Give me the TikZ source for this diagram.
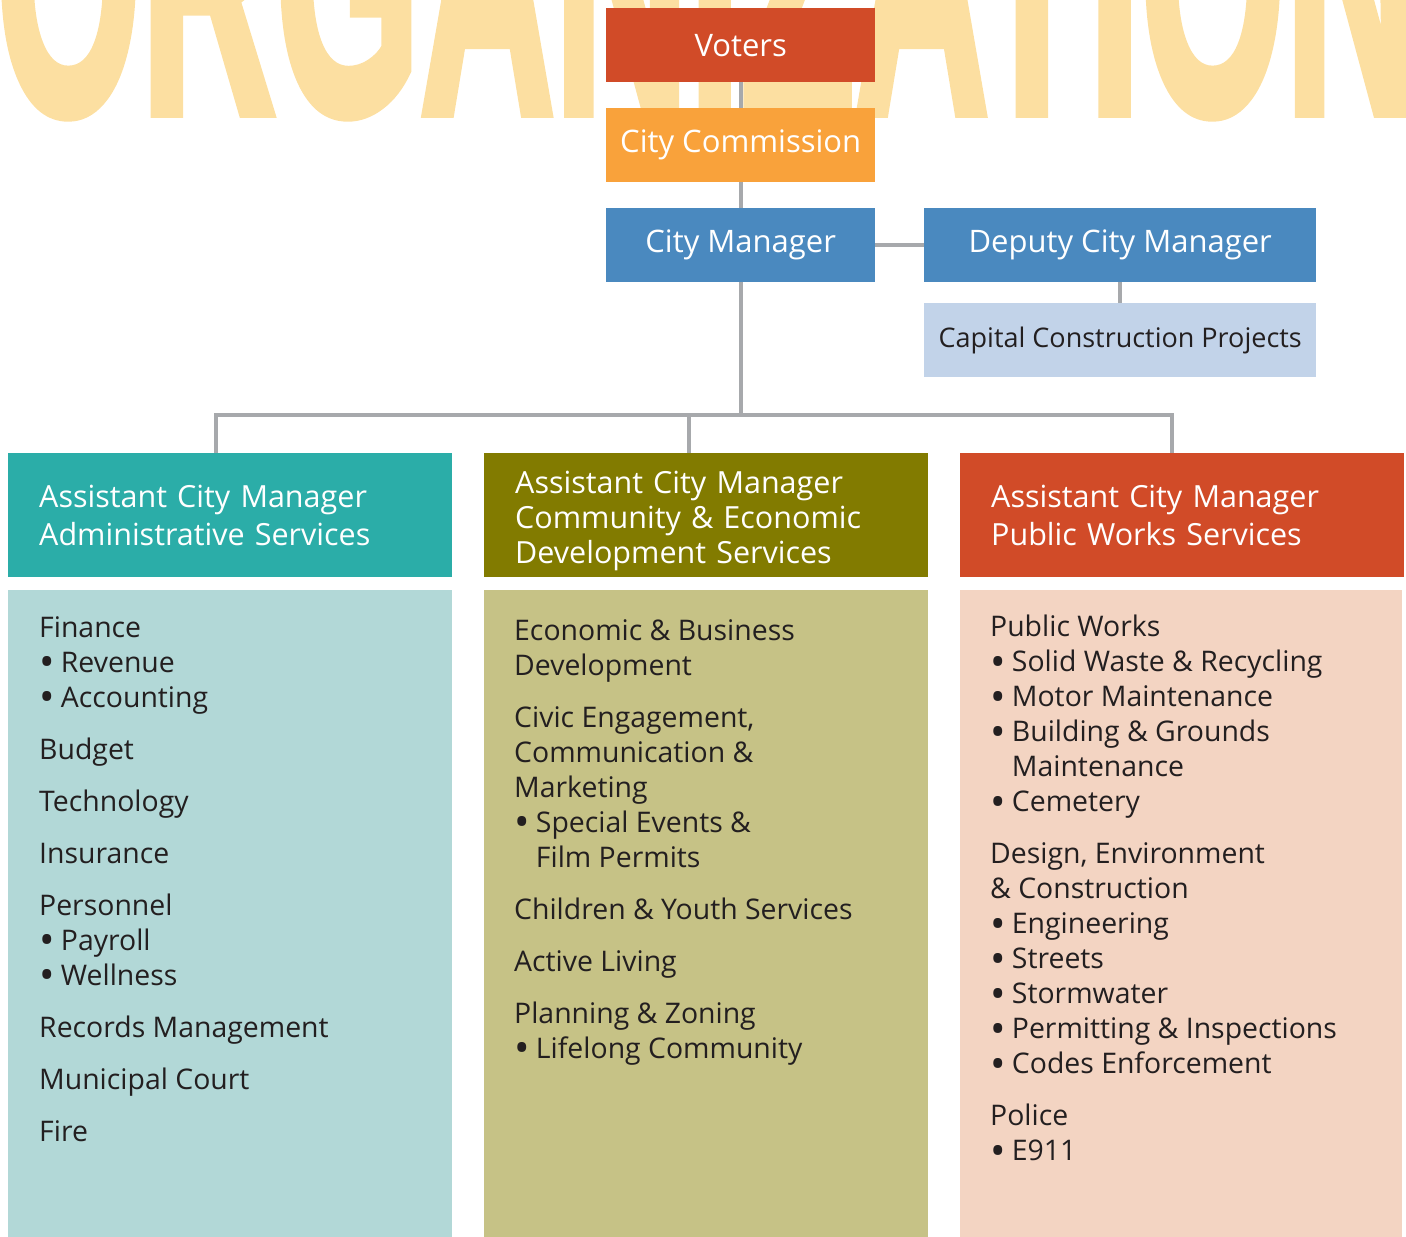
\documentclass[tikz,border=0pt]{standalone}
\usepackage{fontspec}
\setmainfont{Open Sans}
\newfontfamily\orgfont[FakeBold=3]{Liberation Sans Bold}

\definecolor{votersred}{HTML}{D14B28}
\definecolor{commorange}{HTML}{F9A23B}
\definecolor{mgrblue}{HTML}{4A89BF}
\definecolor{projblue}{HTML}{C2D3E9}
\definecolor{adminteal}{HTML}{2BADA8}
\definecolor{commolive}{HTML}{827B00}
\definecolor{adminlight}{HTML}{B2D8D7}
\definecolor{commlight}{HTML}{C6C286}
\definecolor{publight}{HTML}{F3D4C2}
\definecolor{linkgray}{HTML}{A7A9AC}
\definecolor{orgyellow}{HTML}{FCDFA1}
\definecolor{darktext}{HTML}{231F20}

\newcommand{\itm}{\smash{\raisebox{-0.17em}{\scalebox{1.45}{\textbullet}}}\hspace{0.22em}}
\newcommand{\cont}{\phantom{\itm}}

\begin{document}
\begin{tikzpicture}[x=1pt,y=-1pt,
  box/.style={rectangle, inner sep=0pt, anchor=north west},
  topbox/.style={box, text=white, minimum height=74pt, font=\fontsize{31}{36}\selectfont},
  headbox/.style={box, text=white, minimum width=444pt, minimum height=124pt,
    text width=382pt, inner xsep=31pt, align=left, font=\fontsize{30.5}{38}\selectfont},
  bodybox/.style={box, minimum width=444pt, minimum height=647pt},
  listtext/.style={box, text=darktext, align=left, font=\fontsize{28.4}{35}\selectfont},
  link/.style={draw=linkgray, line width=4pt}]

\useasboundingbox (0,0) rectangle (1406,1237);
\clip (0,0) rectangle (1406,1237);

% background title
\node[anchor=base west, inner sep=0pt, text=orgyellow] (title) at (-4,112)
  {\scalebox{0.476}[1]{\orgfont\fontsize{391}{391}\selectfont ORGANIZATION}};

% top of the chart
\node[topbox, fill=votersred, minimum width=269pt] (voters) at (606,8) {Voters};
\node[topbox, fill=commorange, minimum width=269pt] (commission) at (606,108) {City Commission};
\node[topbox, fill=mgrblue, minimum width=269pt] (manager) at (606,208) {City Manager};
\node[topbox, fill=mgrblue, minimum width=392pt] (deputy) at (924,208) {Deputy City Manager};
\node[topbox, fill=projblue, minimum width=392pt, text=darktext, font=\fontsize{27}{32}\selectfont]
  (projects) at (924,303) {Capital Construction Projects};

% assistant managers
\node[headbox, fill=adminteal] (adminhead) at (8,453)
  {Assistant City Manager\\Administrative Services};
\node[headbox, fill=commolive, font=\fontsize{30.5}{35}\selectfont] (commhead) at (484,453)
  {\rule{0pt}{33pt}Assistant City Manager\\Community \& Economic\\Development Services};
\node[headbox, fill=votersred, minimum width=442pt] (pubhead) at (960,453)
  {Assistant City Manager\\Public Works Services};

% departments
\node[bodybox, fill=adminlight] (adminbody) at (8,590) {};
\node[bodybox, fill=commlight] (commbody) at (484,590) {};
\node[bodybox, fill=publight, minimum width=442pt] (pubbody) at (960,590) {};

\node[listtext] (adminlist) at (39,616) {Finance\\
  \itm Revenue\\
  \itm Accounting\\[17pt]
  Budget\\[17pt]
  Technology\\[17pt]
  Insurance\\[17pt]
  Personnel\\
  \itm Payroll\\
  \itm Wellness\\[17pt]
  Records Management\\[17pt]
  Municipal Court\\[17pt]
  Fire};

\node[listtext] (commlist) at (514,619) {Economic \& Business\\
  Development\\[17pt]
  Civic Engagement,\\
  Communication \&\\
  Marketing\\
  \itm Special Events \&\\
  \cont Film Permits\\[17pt]
  Children \& Youth Services\\[17pt]
  Active Living\\[17pt]
  Planning \& Zoning\\
  \itm Lifelong Community};

\node[listtext] (publist) at (990,615) {Public Works\\
  \itm Solid Waste \& Recycling\\
  \itm Motor Maintenance\\
  \itm Building \& Grounds\\
  \cont Maintenance\\
  \itm Cemetery\\[17pt]
  Design, Environment\\
  \& Construction\\
  \itm Engineering\\
  \itm Streets\\
  \itm Stormwater\\
  \itm Permitting \& Inspections\\
  \itm Codes Enforcement\\[17pt]
  Police\\
  \itm E911};

% connectors
\coordinate (bus) at (740,415);
\draw[link] (voters) -- (commission);
\draw[link] (commission) -- (manager);
\draw[link] (manager) -- (deputy);
\draw[link] (deputy) -- (projects);
\draw[link] (manager.south) -- (manager.south |- bus);
\draw[link] ([xshift=-14pt]adminhead.north) |- (bus) -| ([xshift=-10pt]pubhead.north);
\draw[link] ([xshift=-17pt]commhead.north) -- ([xshift=-17pt]commhead.north |- bus);

\end{tikzpicture}
\end{document}
